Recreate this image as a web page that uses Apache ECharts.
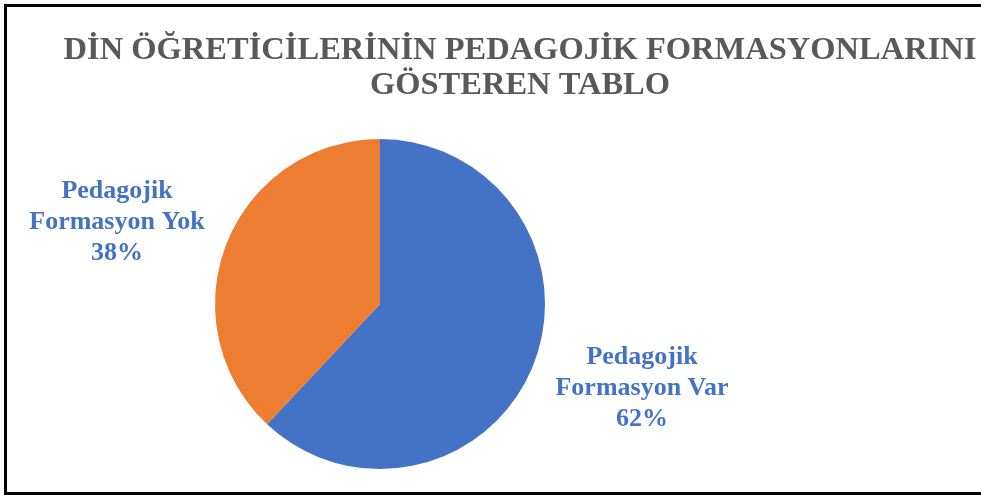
<!DOCTYPE html>
<html>
<head>
<meta charset="utf-8">
<script src="https://cdn.jsdelivr.net/npm/echarts@6/dist/echarts.min.js"></script>
<style>
  html, body { margin: 0; padding: 0; background: #fff; }
  #chart { width: 981px; height: 495px; }
</style>
</head>
<body>
<div id="chart"></div>
<script>
const categories = ['Pedagojik\nFormasyon Var', 'Pedagojik\nFormasyon Yok']
const values = [62, 38]
const colors = ['#4472C4', '#ED7D31']

const chart = echarts.init(document.getElementById('chart'), null, { renderer: 'canvas' })

// label block centres
const labelPos = [[642, 388], [117, 222]]

chart.setOption({
  animation: false,
  backgroundColor: '#fff',
  title: {
    text: 'DİN ÖĞRETİCİLERİNİN PEDAGOJİK FORMASYONLARINI\nGÖSTEREN TABLO',
    left: 515,
    top: 28,
    textAlign: 'center',
    textStyle: {
      fontFamily: 'Liberation Serif',
      fontWeight: 'bold',
      fontSize: 32.5,
      lineHeight: 35,
      color: '#595959'
    }
  },
  graphic: [{
    type: 'rect',
    shape: { x: 5.5, y: 5.5, width: 1100, height: 488 },
    style: { fill: 'none', stroke: '#000', lineWidth: 3 },
    silent: true
  }],
  series: [{
    type: 'pie',
    center: [380, 304],
    radius: 165,
    startAngle: 90,
    clockwise: true,
    data: categories.map((name, i) => ({
      name: name,
      value: values[i],
      itemStyle: { color: colors[i] }
    })),
    label: {
      show: true,
      formatter: p => p.name + '\n' + p.value + '%',
      fontFamily: 'Liberation Serif',
      fontWeight: 'bold',
      fontSize: 26,
      lineHeight: 31,
      color: '#4472C4',
      align: 'center',
      overflow: 'none',
      width: 300
    },
    labelLine: { show: false },
    labelLayout: p => ({
      x: labelPos[p.dataIndex][0],
      y: labelPos[p.dataIndex][1],
      align: 'center',
      verticalAlign: 'middle'
    }),
    emphasis: { disabled: true }
  }]
})
</script>
</body>
</html>
